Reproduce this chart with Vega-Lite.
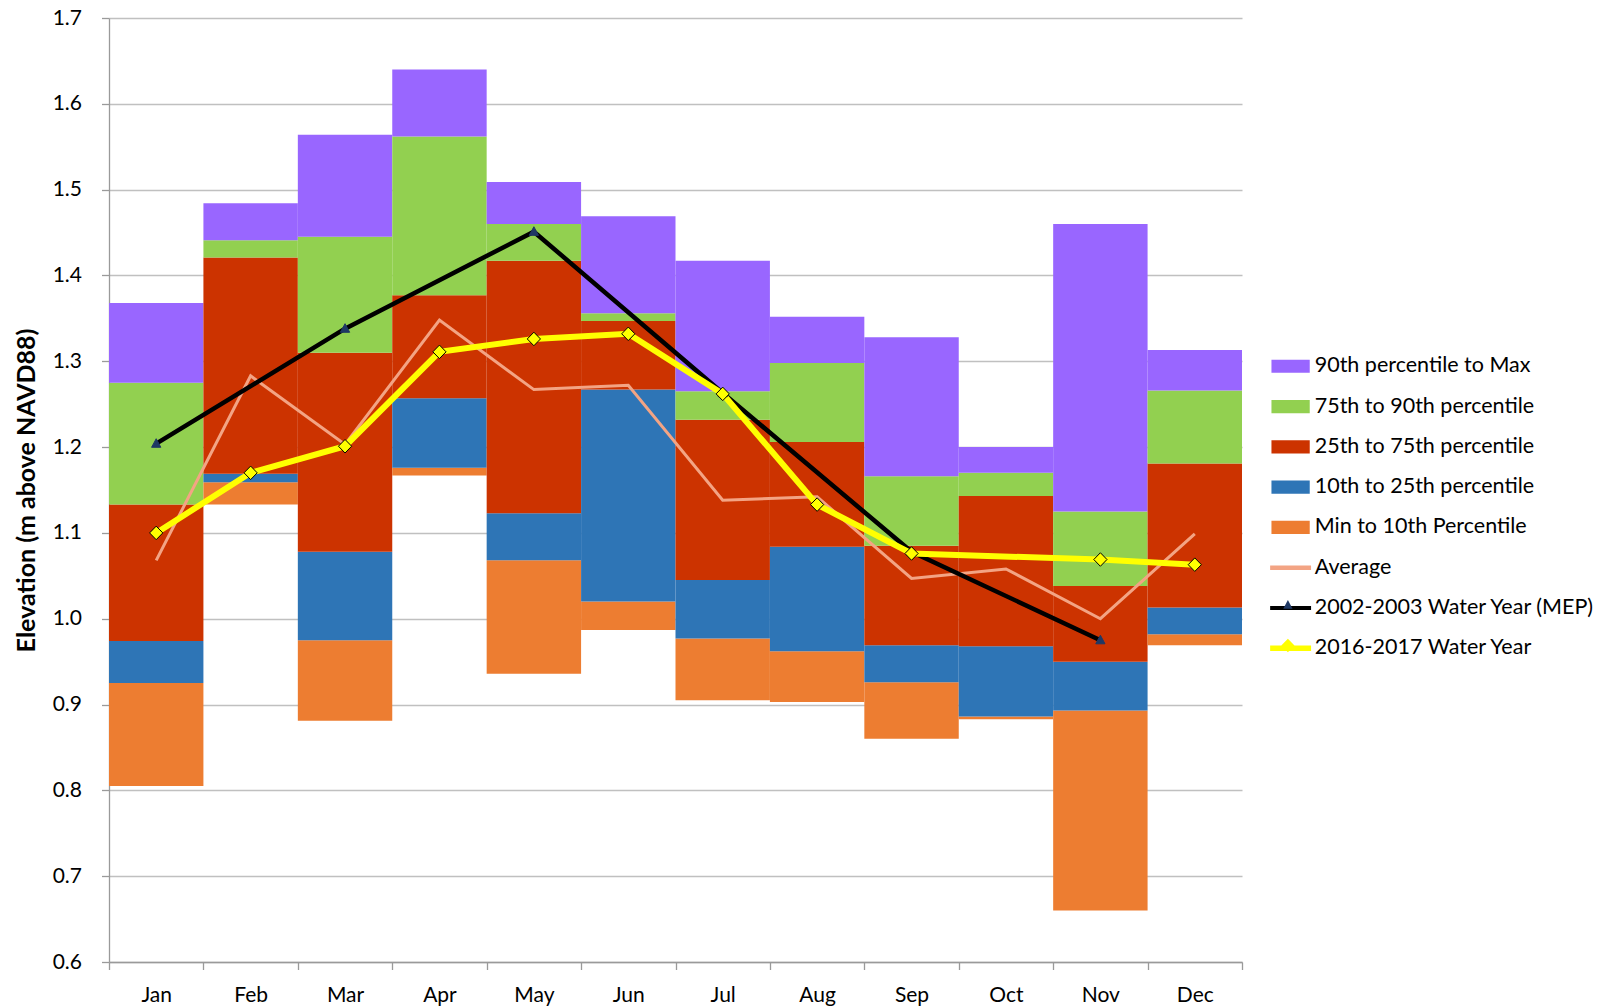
{
  "$schema": "https://vega.github.io/schema/vega-lite/v6.json",
  "autosize": {"type": "none"},
  "padding": {"left": 109, "top": 18, "right": 362, "bottom": 44},
  "width": 1133,
  "height": 944,
  "background": "white",
  "config": {
    "view": {"stroke": null},
    "font": "Lato",
    "axis": {
      "labelFont": "Lato",
      "labelFontSize": 21,
      "labelColor": "#000000",
      "titleFont": "Lato",
      "titleColor": "#000000",
      "domainColor": "#9a9a9a",
      "tickColor": "#9a9a9a",
      "gridColor": "#c0c0c0",
      "domainWidth": 1.3,
      "tickWidth": 1.3,
      "gridWidth": 1.3
    },
    "legend": {"labelFont": "Lato"}
  },
  "datasets": {
    "bands": [
      {"month": "Jan", "series": "Min to 10th Percentile", "lo": 0.805, "hi": 0.925},
      {"month": "Jan", "series": "10th to 25th percentile", "lo": 0.925, "hi": 0.974},
      {"month": "Jan", "series": "25th to 75th percentile", "lo": 0.974, "hi": 1.133},
      {"month": "Jan", "series": "75th to 90th percentile", "lo": 1.133, "hi": 1.275},
      {"month": "Jan", "series": "90th percentile to Max", "lo": 1.275, "hi": 1.368},
      {"month": "Feb", "series": "Min to 10th Percentile", "lo": 1.133, "hi": 1.159},
      {"month": "Feb", "series": "10th to 25th percentile", "lo": 1.159, "hi": 1.169},
      {"month": "Feb", "series": "25th to 75th percentile", "lo": 1.169, "hi": 1.421},
      {"month": "Feb", "series": "75th to 90th percentile", "lo": 1.421, "hi": 1.441},
      {"month": "Feb", "series": "90th percentile to Max", "lo": 1.441, "hi": 1.484},
      {"month": "Mar", "series": "Min to 10th Percentile", "lo": 0.881, "hi": 0.975},
      {"month": "Mar", "series": "10th to 25th percentile", "lo": 0.975, "hi": 1.078},
      {"month": "Mar", "series": "25th to 75th percentile", "lo": 1.078, "hi": 1.31},
      {"month": "Mar", "series": "75th to 90th percentile", "lo": 1.31, "hi": 1.445},
      {"month": "Mar", "series": "90th percentile to Max", "lo": 1.445, "hi": 1.564},
      {"month": "Apr", "series": "Min to 10th Percentile", "lo": 1.167, "hi": 1.176},
      {"month": "Apr", "series": "10th to 25th percentile", "lo": 1.176, "hi": 1.257},
      {"month": "Apr", "series": "25th to 75th percentile", "lo": 1.257, "hi": 1.377},
      {"month": "Apr", "series": "75th to 90th percentile", "lo": 1.377, "hi": 1.562},
      {"month": "Apr", "series": "90th percentile to Max", "lo": 1.562, "hi": 1.64},
      {"month": "May", "series": "Min to 10th Percentile", "lo": 0.936, "hi": 1.068},
      {"month": "May", "series": "10th to 25th percentile", "lo": 1.068, "hi": 1.123},
      {"month": "May", "series": "25th to 75th percentile", "lo": 1.123, "hi": 1.417},
      {"month": "May", "series": "75th to 90th percentile", "lo": 1.417, "hi": 1.46},
      {"month": "May", "series": "90th percentile to Max", "lo": 1.46, "hi": 1.509},
      {"month": "Jun", "series": "Min to 10th Percentile", "lo": 0.987, "hi": 1.02},
      {"month": "Jun", "series": "10th to 25th percentile", "lo": 1.02, "hi": 1.267},
      {"month": "Jun", "series": "25th to 75th percentile", "lo": 1.267, "hi": 1.347},
      {"month": "Jun", "series": "75th to 90th percentile", "lo": 1.347, "hi": 1.356},
      {"month": "Jun", "series": "90th percentile to Max", "lo": 1.356, "hi": 1.469},
      {"month": "Jul", "series": "Min to 10th Percentile", "lo": 0.905, "hi": 0.977},
      {"month": "Jul", "series": "10th to 25th percentile", "lo": 0.977, "hi": 1.045},
      {"month": "Jul", "series": "25th to 75th percentile", "lo": 1.045, "hi": 1.232},
      {"month": "Jul", "series": "75th to 90th percentile", "lo": 1.232, "hi": 1.265},
      {"month": "Jul", "series": "90th percentile to Max", "lo": 1.265, "hi": 1.417},
      {"month": "Aug", "series": "Min to 10th Percentile", "lo": 0.903, "hi": 0.962},
      {"month": "Aug", "series": "10th to 25th percentile", "lo": 0.962, "hi": 1.084},
      {"month": "Aug", "series": "25th to 75th percentile", "lo": 1.084, "hi": 1.206},
      {"month": "Aug", "series": "75th to 90th percentile", "lo": 1.206, "hi": 1.298},
      {"month": "Aug", "series": "90th percentile to Max", "lo": 1.298, "hi": 1.352},
      {"month": "Sep", "series": "Min to 10th Percentile", "lo": 0.86, "hi": 0.926},
      {"month": "Sep", "series": "10th to 25th percentile", "lo": 0.926, "hi": 0.969},
      {"month": "Sep", "series": "25th to 75th percentile", "lo": 0.969, "hi": 1.085},
      {"month": "Sep", "series": "75th to 90th percentile", "lo": 1.085, "hi": 1.166},
      {"month": "Sep", "series": "90th percentile to Max", "lo": 1.166, "hi": 1.328},
      {"month": "Oct", "series": "Min to 10th Percentile", "lo": 0.883, "hi": 0.886},
      {"month": "Oct", "series": "10th to 25th percentile", "lo": 0.886, "hi": 0.968},
      {"month": "Oct", "series": "25th to 75th percentile", "lo": 0.968, "hi": 1.143},
      {"month": "Oct", "series": "75th to 90th percentile", "lo": 1.143, "hi": 1.17},
      {"month": "Oct", "series": "90th percentile to Max", "lo": 1.17, "hi": 1.2},
      {"month": "Nov", "series": "Min to 10th Percentile", "lo": 0.66, "hi": 0.893},
      {"month": "Nov", "series": "10th to 25th percentile", "lo": 0.893, "hi": 0.95},
      {"month": "Nov", "series": "25th to 75th percentile", "lo": 0.95, "hi": 1.038},
      {"month": "Nov", "series": "75th to 90th percentile", "lo": 1.038, "hi": 1.125},
      {"month": "Nov", "series": "90th percentile to Max", "lo": 1.125, "hi": 1.46},
      {"month": "Dec", "series": "Min to 10th Percentile", "lo": 0.969, "hi": 0.982},
      {"month": "Dec", "series": "10th to 25th percentile", "lo": 0.982, "hi": 1.013},
      {"month": "Dec", "series": "25th to 75th percentile", "lo": 1.013, "hi": 1.181},
      {"month": "Dec", "series": "75th to 90th percentile", "lo": 1.181, "hi": 1.266},
      {"month": "Dec", "series": "90th percentile to Max", "lo": 1.266, "hi": 1.313}
    ],
    "lines": [
      {"month": "Jan", "series": "Average", "value": 1.068},
      {"month": "Feb", "series": "Average", "value": 1.283},
      {"month": "Mar", "series": "Average", "value": 1.203},
      {"month": "Apr", "series": "Average", "value": 1.348},
      {"month": "May", "series": "Average", "value": 1.267},
      {"month": "Jun", "series": "Average", "value": 1.272},
      {"month": "Jul", "series": "Average", "value": 1.138},
      {"month": "Aug", "series": "Average", "value": 1.142},
      {"month": "Sep", "series": "Average", "value": 1.047},
      {"month": "Oct", "series": "Average", "value": 1.058},
      {"month": "Nov", "series": "Average", "value": 1.0},
      {"month": "Dec", "series": "Average", "value": 1.099},
      {"month": "Jan", "series": "2002-2003 Water Year (MEP)", "value": 1.204},
      {"month": "Mar", "series": "2002-2003 Water Year (MEP)", "value": 1.338},
      {"month": "May", "series": "2002-2003 Water Year (MEP)", "value": 1.451},
      {"month": "Jul", "series": "2002-2003 Water Year (MEP)", "value": 1.263},
      {"month": "Sep", "series": "2002-2003 Water Year (MEP)", "value": 1.078},
      {"month": "Nov", "series": "2002-2003 Water Year (MEP)", "value": 0.975},
      {"month": "Jan", "series": "2016-2017 Water Year", "value": 1.1},
      {"month": "Feb", "series": "2016-2017 Water Year", "value": 1.17},
      {"month": "Mar", "series": "2016-2017 Water Year", "value": 1.201},
      {"month": "Apr", "series": "2016-2017 Water Year", "value": 1.311},
      {"month": "May", "series": "2016-2017 Water Year", "value": 1.326},
      {"month": "Jun", "series": "2016-2017 Water Year", "value": 1.332},
      {"month": "Jul", "series": "2016-2017 Water Year", "value": 1.262},
      {"month": "Aug", "series": "2016-2017 Water Year", "value": 1.133},
      {"month": "Sep", "series": "2016-2017 Water Year", "value": 1.076},
      {"month": "Nov", "series": "2016-2017 Water Year", "value": 1.069},
      {"month": "Dec", "series": "2016-2017 Water Year", "value": 1.063}
    ]
  },
  "layer": [
    {
      "data": {"name": "bands"},
      "mark": {"type": "bar"},
      "encoding": {
        "x": {
          "field": "month", "type": "nominal",
          "sort": ["Jan", "Feb", "Mar", "Apr", "May", "Jun", "Jul", "Aug", "Sep", "Oct", "Nov", "Dec"],
          "scale": {"paddingInner": 0, "paddingOuter": 0},
          "axis": {"title": null, "labelAngle": 0, "tickBand": "extent", "tickSize": 7.5, "labelPadding": 15, "grid": false}
        },
        "y": {
          "field": "lo", "type": "quantitative",
          "scale": {"domain": [0.6, 1.7], "nice": false, "zero": false},
          "axis": {
            "title": "Elevation (m above NAVD88)", "titleFontSize": 25, "titleFontWeight": "bold", "titlePadding": 13,
            "values": [0.6, 0.7, 0.8, 0.9, 1.0, 1.1, 1.2, 1.3, 1.4, 1.5, 1.6, 1.7],
            "format": ".1f", "tickSize": 7.5, "labelPadding": 20, "grid": true
          }
        },
        "y2": {"field": "hi"},
        "color": {
          "field": "series", "type": "nominal",
          "scale": {
            "domain": ["90th percentile to Max", "75th to 90th percentile", "25th to 75th percentile", "10th to 25th percentile", "Min to 10th Percentile", "Average", "2002-2003 Water Year (MEP)", "2016-2017 Water Year"],
            "range": ["#9966ff", "#92d050", "#cc3300", "#2e75b6", "#ed7d31", "#f3a484", "#000000", "#ffff00"]
          },
          "legend": {
            "orient": "none", "legendX": 1162.4, "legendY": 337.5, "title": null,
            "symbolSize": 1089, "symbolStrokeWidth": 0, "rowPadding": 17.3,
            "labelFontSize": 21.5, "labelColor": "#000000", "labelOffset": 4, "padding": 0, "labelLimit": 400,
            "encode": {
              "symbols": {
                "update": {
                  "x": {"value": 19.2},
                  "size": {"value": 1089},
                  "shape": {"signal": "indexof(['Average','2002-2003 Water Year (MEP)','2016-2017 Water Year'], datum.value) >= 0 ? 'M-1.24,0H1.24' : 'M-1.16,-0.4H1.16V0.4H-1.16Z'"},
                  "fill": {"signal": "indexof(['Average','2002-2003 Water Year (MEP)','2016-2017 Water Year'], datum.value) >= 0 ? 'transparent' : scale('color', datum.value)"},
                  "stroke": {"signal": "indexof(['Average','2002-2003 Water Year (MEP)','2016-2017 Water Year'], datum.value) >= 0 ? scale('color', datum.value) : 'transparent'"},
                  "strokeWidth": {"signal": "datum.value === 'Average' ? 4.5 : datum.value === '2016-2017 Water Year' ? 5.5 : datum.value === '2002-2003 Water Year (MEP)' ? 4 : 0"},
                  "opacity": {"value": 1},
                  "fillOpacity": {"value": 1},
                  "strokeOpacity": {"value": 1}
                }
              },
              "labels": {
                "update": {"x": {"value": 43.3}}
              }
            }
          }
        }
      }
    },
    {
      "data": {"name": "lines"},
      "transform": [{"filter": "datum.series === 'Average'"}],
      "mark": {"type": "line", "strokeWidth": 3},
      "encoding": {
        "x": {"field": "month", "type": "nominal", "sort": ["Jan", "Feb", "Mar", "Apr", "May", "Jun", "Jul", "Aug", "Sep", "Oct", "Nov", "Dec"]},
        "y": {"field": "value", "type": "quantitative"},
        "color": {"field": "series", "type": "nominal"}
      }
    },
    {
      "data": {"name": "lines"},
      "transform": [{"filter": "datum.series === '2002-2003 Water Year (MEP)'"}],
      "mark": {"type": "line", "strokeWidth": 4.5},
      "encoding": {
        "x": {"field": "month", "type": "nominal", "sort": ["Jan", "Feb", "Mar", "Apr", "May", "Jun", "Jul", "Aug", "Sep", "Oct", "Nov", "Dec"]},
        "y": {"field": "value", "type": "quantitative"},
        "color": {"field": "series", "type": "nominal"}
      }
    },
    {
      "data": {"name": "lines"},
      "transform": [{"filter": "datum.series === '2016-2017 Water Year'"}],
      "mark": {"type": "line", "strokeWidth": 6},
      "encoding": {
        "x": {"field": "month", "type": "nominal", "sort": ["Jan", "Feb", "Mar", "Apr", "May", "Jun", "Jul", "Aug", "Sep", "Oct", "Nov", "Dec"]},
        "y": {"field": "value", "type": "quantitative"},
        "color": {"field": "series", "type": "nominal"}
      }
    },
    {
      "data": {"name": "lines"},
      "transform": [{"filter": "datum.series !== 'Average'"}],
      "mark": {"type": "point", "filled": true, "size": 1089, "opacity": 1, "strokeWidth": 1},
      "encoding": {
        "x": {"field": "month", "type": "nominal", "sort": ["Jan", "Feb", "Mar", "Apr", "May", "Jun", "Jul", "Aug", "Sep", "Oct", "Nov", "Dec"]},
        "y": {"field": "value", "type": "quantitative"},
        "shape": {
          "field": "series", "type": "nominal",
          "scale": {
            "domain": ["2002-2003 Water Year (MEP)", "2016-2017 Water Year"],
            "range": ["M0,-0.3L0.28,0.22L-0.28,0.22Z", "M0,-0.41L0.4,0L0,0.41L-0.4,0Z"]
          },
          "legend": {
            "orient": "none", "legendX": 1162.4, "legendY": 570.5, "title": null,
            "symbolSize": 1089, "symbolStrokeWidth": 0, "rowPadding": 13.5,
            "labelFontSize": 20, "labelExpr": "''", "labelOffset": 4, "padding": 0,
            "encode": {
              "symbols": {
                "update": {
                  "x": {"value": 19.2},
                  "size": {"value": 1089},
                  "fill": {"signal": "datum.value === '2016-2017 Water Year' ? '#ffff00' : '#1f3864'"},
                  "stroke": {"signal": "datum.value === '2016-2017 Water Year' ? '#000000' : '#1f3864'"},
                  "strokeWidth": {"value": 1},
                  "opacity": {"value": 1},
                  "fillOpacity": {"value": 1},
                  "strokeOpacity": {"value": 1}
                }
              }
            }
          }
        },
        "fill": {
          "field": "series", "type": "nominal",
          "scale": {"domain": ["2002-2003 Water Year (MEP)", "2016-2017 Water Year"], "range": ["#1f3864", "#ffff00"]},
          "legend": null
        },
        "stroke": {
          "field": "series", "type": "nominal",
          "scale": {"domain": ["2002-2003 Water Year (MEP)", "2016-2017 Water Year"], "range": ["#1f3864", "#000000"]},
          "legend": null
        }
      }
    }
  ]
}
